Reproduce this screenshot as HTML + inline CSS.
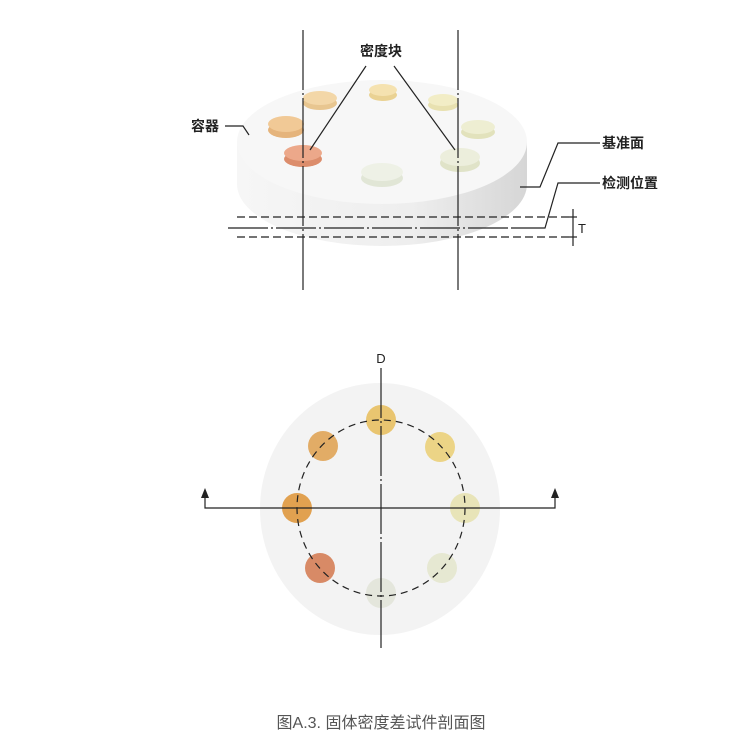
<!DOCTYPE html>
<html><head><meta charset="utf-8"><style>
html,body{margin:0;padding:0;background:#fff;}
svg{display:block;}
text{font-family:"Liberation Sans","Noto Sans CJK SC",sans-serif;}
</style></head><body>
<svg width="750" height="750" viewBox="0 0 750 750" xmlns="http://www.w3.org/2000/svg">
<defs>
<linearGradient id="side" x1="0" x2="1" y1="0" y2="0">
<stop offset="0" stop-color="#f6f6f6"/><stop offset="0.6" stop-color="#eeeeee"/><stop offset="1" stop-color="#d6d6d6"/>
</linearGradient>
</defs>
<path d="M237,142 L237,184 A145,62 0 0 0 527,184 L527,142 Z" fill="url(#side)"/>
<ellipse cx="382" cy="142" rx="145" ry="62" fill="#f7f7f7"/>
<g>
<g transform="translate(320,98)"><ellipse cx="0" cy="5" rx="17" ry="7" fill="#e8c690"/><ellipse cx="0" cy="0" rx="17" ry="7" fill="#f3d7a8"/></g>
<g transform="translate(383,90)"><ellipse cx="0" cy="5" rx="14" ry="6" fill="#ead293"/><ellipse cx="0" cy="0" rx="14" ry="6" fill="#f5e2b0"/></g>
<g transform="translate(443,100)"><ellipse cx="0" cy="5" rx="15" ry="6" fill="#e8e1b0"/><ellipse cx="0" cy="0" rx="15" ry="6" fill="#f2edc6"/></g>
<g transform="translate(478,127)"><ellipse cx="0" cy="5" rx="17" ry="7" fill="#e2e2bc"/><ellipse cx="0" cy="0" rx="17" ry="7" fill="#eeeed2"/></g>
<g transform="translate(286,124)"><ellipse cx="0" cy="6" rx="18" ry="8" fill="#e5b47c"/><ellipse cx="0" cy="0" rx="18" ry="8" fill="#f1c996"/></g>
<g transform="translate(303,153)"><ellipse cx="0" cy="6" rx="19" ry="8" fill="#dc8d6c"/><ellipse cx="0" cy="0" rx="19" ry="8" fill="#eca88a"/></g>
<g transform="translate(460,157)"><ellipse cx="0" cy="6" rx="20" ry="9" fill="#e0e3c8"/><ellipse cx="0" cy="0" rx="20" ry="9" fill="#eceedc"/></g>
<g transform="translate(382,172)"><ellipse cx="0" cy="6" rx="21" ry="9" fill="#e1e6d6"/><ellipse cx="0" cy="0" rx="21" ry="9" fill="#eef1e6"/></g>
</g>
<g stroke="#222" stroke-width="1.2" fill="none">
<line x1="303" y1="30" x2="303" y2="290" stroke-dasharray="60,3,2,3"/>
<line x1="458" y1="30" x2="458" y2="290" stroke-dasharray="60,3,2,3"/>
<line x1="366" y1="66" x2="310" y2="150"/>
<line x1="394" y1="66" x2="455" y2="150"/>
<polyline points="225,126 243,126 249,135"/>
<polyline points="520,187 540,187 558,143 600,143"/>
<polyline points="513,228 545,228 558,183 600,183"/>
<line x1="237" y1="217" x2="572" y2="217" stroke-dasharray="8,4"/>
<line x1="237" y1="237" x2="572" y2="237" stroke-dasharray="8,4"/>
<line x1="228" y1="228" x2="513" y2="228" stroke-dasharray="40,3,2,3"/>
<line x1="573" y1="209" x2="573" y2="246"/>
<line x1="569" y1="217" x2="577" y2="217"/>
<line x1="569" y1="237" x2="577" y2="237"/>
</g>
<g fill="#222" font-size="14" font-weight="bold">
<text x="381" y="56" text-anchor="middle">密度块</text>
<text x="205" y="131" text-anchor="middle">容器</text>
<text x="602" y="148">基准面</text>
<text x="602" y="188">检测位置</text>
</g>
<text x="578" y="233" font-size="13" fill="#222">T</text>

<ellipse cx="380" cy="509" rx="120" ry="126" fill="#f3f3f3"/>
<circle cx="381" cy="420" r="15" fill="#e9c570"/>
<circle cx="440" cy="447" r="15" fill="#ecd486"/>
<circle cx="465" cy="508" r="15" fill="#e8e4b8"/>
<circle cx="442" cy="568" r="15" fill="#e6e8d2"/>
<circle cx="381" cy="593" r="15" fill="#e4e6dc"/>
<circle cx="320" cy="568" r="15" fill="#d88a66"/>
<circle cx="297" cy="508" r="15" fill="#e1a150"/>
<circle cx="323" cy="446" r="15" fill="#e2ac66"/>
<g stroke="#222" stroke-width="1.2" fill="none">
<ellipse cx="381" cy="508" rx="84" ry="88" stroke-dasharray="7,5"/>
<line x1="381" y1="368" x2="381" y2="648" stroke-dasharray="50,3,2,3"/>
<polyline points="205,494 205,508 555,508 555,494"/>
</g>
<path d="M205,488 l-4,10 h8 z M555,488 l-4,10 h8 z" fill="#222"/>
<text x="381" y="363" font-size="13" text-anchor="middle" fill="#222">D</text>

<text x="381" y="728" font-size="16" text-anchor="middle" fill="#555">图A.3. 固体密度差试件剖面图</text>
</svg>
</body></html>
